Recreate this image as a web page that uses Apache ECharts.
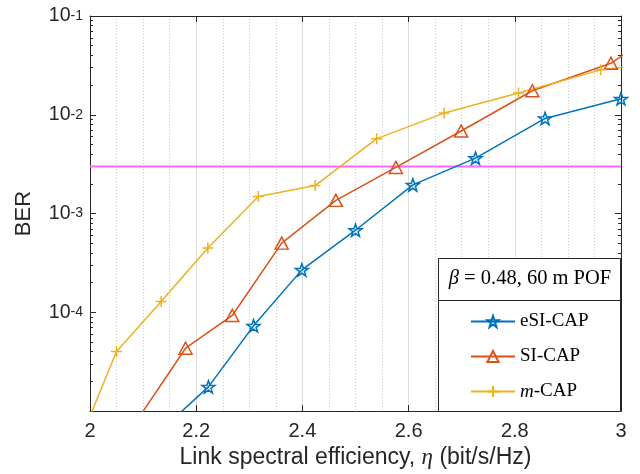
<!DOCTYPE html>
<html>
<head>
<meta charset="utf-8">
<script src="https://cdn.jsdelivr.net/npm/echarts@6/dist/echarts.min.js"></script>
<style>html,body{margin:0;padding:0;background:#fff}#c{width:640px;height:474px}</style>
</head>
<body>
<div id="c"></div>
<script>
// ---- data ----
var esiX = [2.143, 2.223, 2.308, 2.399, 2.500, 2.608, 2.726, 2.857, 3.000];
var esiY = [7.1e-6, 1.76e-5, 7.3e-5, 2.69e-4, 6.78e-4, 1.95e-3, 3.64e-3, 9.18e-3, 1.45e-2];
var siX = [2.090, 2.180, 2.268, 2.361, 2.463, 2.576, 2.699, 2.833, 2.981, 3.140];
var siY = [8.3e-6, 4.33e-5, 9.29e-5, 5.02e-4, 1.36e-3, 2.93e-3, 6.85e-3, 1.75e-2, 3.32e-2, 0.127];
var mX = [2.000, 2.050, 2.134, 2.222, 2.317, 2.424, 2.540, 2.667, 2.807, 2.962, 3.130];
var mY = [8.9e-6, 4.01e-5, 1.29e-4, 4.47e-4, 1.49e-3, 1.92e-3, 5.73e-3, 1.04e-2, 1.66e-2, 2.85e-2, 3.6e-2];
var fecX = [2, 3];
var fecLimit = 3e-3;
var seriesNames = ['eSI-CAP', 'SI-CAP', 'm-CAP'];
var xTicks = [2, 2.2, 2.4, 2.6, 2.8, 3];
var yMajor = [1e-5, 1e-4, 1e-3, 1e-2, 1e-1];
var yLabelled = [1e-4, 1e-3, 1e-2, 1e-1];
var legendTitle = '{i|β} = 0.48, 60 m POF';
var xName = 'Link spectral efficiency, {i|η} (bit/s/Hz)';
var yName = 'BER';

function zip(xs, ys) { return xs.map(function (x, i) { return [x, ys[i]]; }); }
var yMinor = [];
yMajor.slice(0, -1).forEach(function (d) { for (var k = 2; k <= 9; k++) yMinor.push(d * k); });

var AX = '#262626';
var C1 = '#0072BD', C2 = '#D95319', C3 = '#EDB120';
var STAR = 'path://M0,-10L2.35,-3.24L9.51,-3.09L3.8,1.24L5.88,8.09L0,4L-5.88,8.09L-3.8,1.24L-9.51,-3.09L-2.35,-3.24Z';
var PLUS = 'path://M0,-10L0,10M-10,0L10,0';

var chart = echarts.init(document.getElementById('c'), null, {renderer: 'canvas'});
var grid = {left: 90, right: 19, top: 14, bottom: 62};
function yAx(pos, ticks, len, showLine) {
  return {
    type: 'log', logBase: 10, min: yMajor[0], max: yMajor[yMajor.length - 1], position: pos,
    axisLine: {show: showLine, lineStyle: {color: AX, width: 1}},
    axisTick: {show: true, inside: true, length: len, customValues: ticks, lineStyle: {color: AX, width: 1}},
    axisLabel: {show: false}, splitLine: {show: false}, minorTick: {show: false}
  };
}
var yMain = yAx('left', yMajor, 6, true);
yMain.axisLabel = {
  show: true, margin: 7, customValues: yLabelled,
  formatter: function (v) { return '{b|10}{s|' + Math.round(Math.log10(v)) + '}'; },
  rich: {
    b: {fontFamily: 'Liberation Sans', fontSize: 19.5, color: AX, lineHeight: 20, verticalAlign: 'bottom', padding: [6, 0, 0, 0]},
    s: {fontFamily: 'Liberation Sans', fontSize: 14, color: AX, lineHeight: 14, verticalAlign: 'top', padding: [3, 0, 0, 0]}
  }
};
yMain.name = yName; yMain.nameLocation = 'middle'; yMain.nameGap = 55;
yMain.nameTextStyle = {fontFamily: 'Liberation Sans', fontSize: 22, color: AX};

var option = {
  animation: false,
  backgroundColor: '#fff',
  grid: grid,
  xAxis: [{
    type: 'value', min: xTicks[0], max: xTicks[xTicks.length - 1], interval: 0.2, position: 'bottom',
    axisLine: {show: true, onZero: false, lineStyle: {color: AX, width: 1}},
    axisTick: {show: true, inside: true, length: 6, lineStyle: {color: AX}},
    axisLabel: {fontFamily: 'Liberation Sans', fontSize: 20, color: AX, margin: 10},
    splitLine: {show: true, lineStyle: {color: '#dedede', width: 1}},
    minorTick: {show: false, splitNumber: 4},
    minorSplitLine: {show: true, lineStyle: {color: '#cccccc', width: 1, type: [1, 2]}},
    name: xName, nameLocation: 'middle', nameGap: 31,
    nameTextStyle: {fontFamily: 'Liberation Sans', fontSize: 23, color: AX,
      rich: {i: {fontFamily: 'Liberation Serif', fontStyle: 'italic', fontSize: 23, color: AX}}}
  }, {
    type: 'value', min: xTicks[0], max: xTicks[xTicks.length - 1], interval: 0.2, position: 'top',
    axisLine: {show: true, onZero: false, lineStyle: {color: AX, width: 1}},
    axisTick: {show: true, inside: true, length: 6, lineStyle: {color: AX}},
    axisLabel: {show: false}, splitLine: {show: false}
  }],
  yAxis: [yMain, yAx('left', yMinor, 3, false), yAx('right', yMajor, 6, true), yAx('right', yMinor, 3, false)],
  legend: {
    data: seriesNames, orient: 'vertical', left: 465, top: 307, itemGap: 16,
    itemWidth: 44, itemHeight: 14, z: 10,
    textStyle: {fontFamily: 'Liberation Serif', fontSize: 19, color: '#000',
      rich: {i: {fontFamily: 'Liberation Serif', fontStyle: 'italic', fontSize: 19, color: '#000'}}},
    formatter: function (n) { return n === 'm-CAP' ? '{i|m}-CAP' : n; }
  },
  graphic: [{
    type: 'rect', z: 8, shape: {x: 438.5, y: 258.5, width: 182, height: 153},
    style: {fill: '#fff', stroke: AX, lineWidth: 1}
  }, {
    type: 'line', z: 9, shape: {x1: 438.5, y1: 300.5, x2: 620.5, y2: 300.5},
    style: {stroke: AX, lineWidth: 1}
  }, {
    type: 'text', z: 9, x: 530, y: 279,
    style: {text: legendTitle, align: 'center', verticalAlign: 'middle',
      fontFamily: 'Liberation Serif', fontSize: 20.5, fill: '#000',
      rich: {i: {fontFamily: 'Liberation Serif', fontStyle: 'italic', fontSize: 20.5, fill: '#000'}}}
  }],
  series: [{
    name: 'FEC', type: 'line', data: zip(fecX, [fecLimit, fecLimit]), symbol: 'none',
    lineStyle: {color: '#ff66ff', width: 2}, itemStyle: {color: '#ff66ff'}, clip: true, z: 1, silent: true
  }, {
    name: seriesNames[0], type: 'line', data: zip(esiX, esiY), clip: true,
    symbol: STAR, symbolSize: 13, symbolKeepAspect: true, showAllSymbol: true,
    lineStyle: {color: C1, width: 1.5},
    itemStyle: {color: 'rgba(0,114,189,0.12)', borderColor: C1, borderWidth: 1.5}
  }, {
    name: seriesNames[1], type: 'line', data: zip(siX, siY), clip: true,
    symbol: 'triangle', symbolSize: [13, 12], showAllSymbol: true,
    lineStyle: {color: C2, width: 1.5},
    itemStyle: {color: 'rgba(255,255,255,0)', borderColor: C2, borderWidth: 1.5}
  }, {
    name: seriesNames[2], type: 'line', data: zip(mX, mY), clip: true,
    symbol: PLUS, symbolSize: 11, symbolKeepAspect: true, showAllSymbol: true,
    lineStyle: {color: C3, width: 1.5},
    itemStyle: {color: 'rgba(255,255,255,0)', borderColor: C3, borderWidth: 1.5}
  }]
};
chart.setOption(option);
</script>
</body>
</html>
